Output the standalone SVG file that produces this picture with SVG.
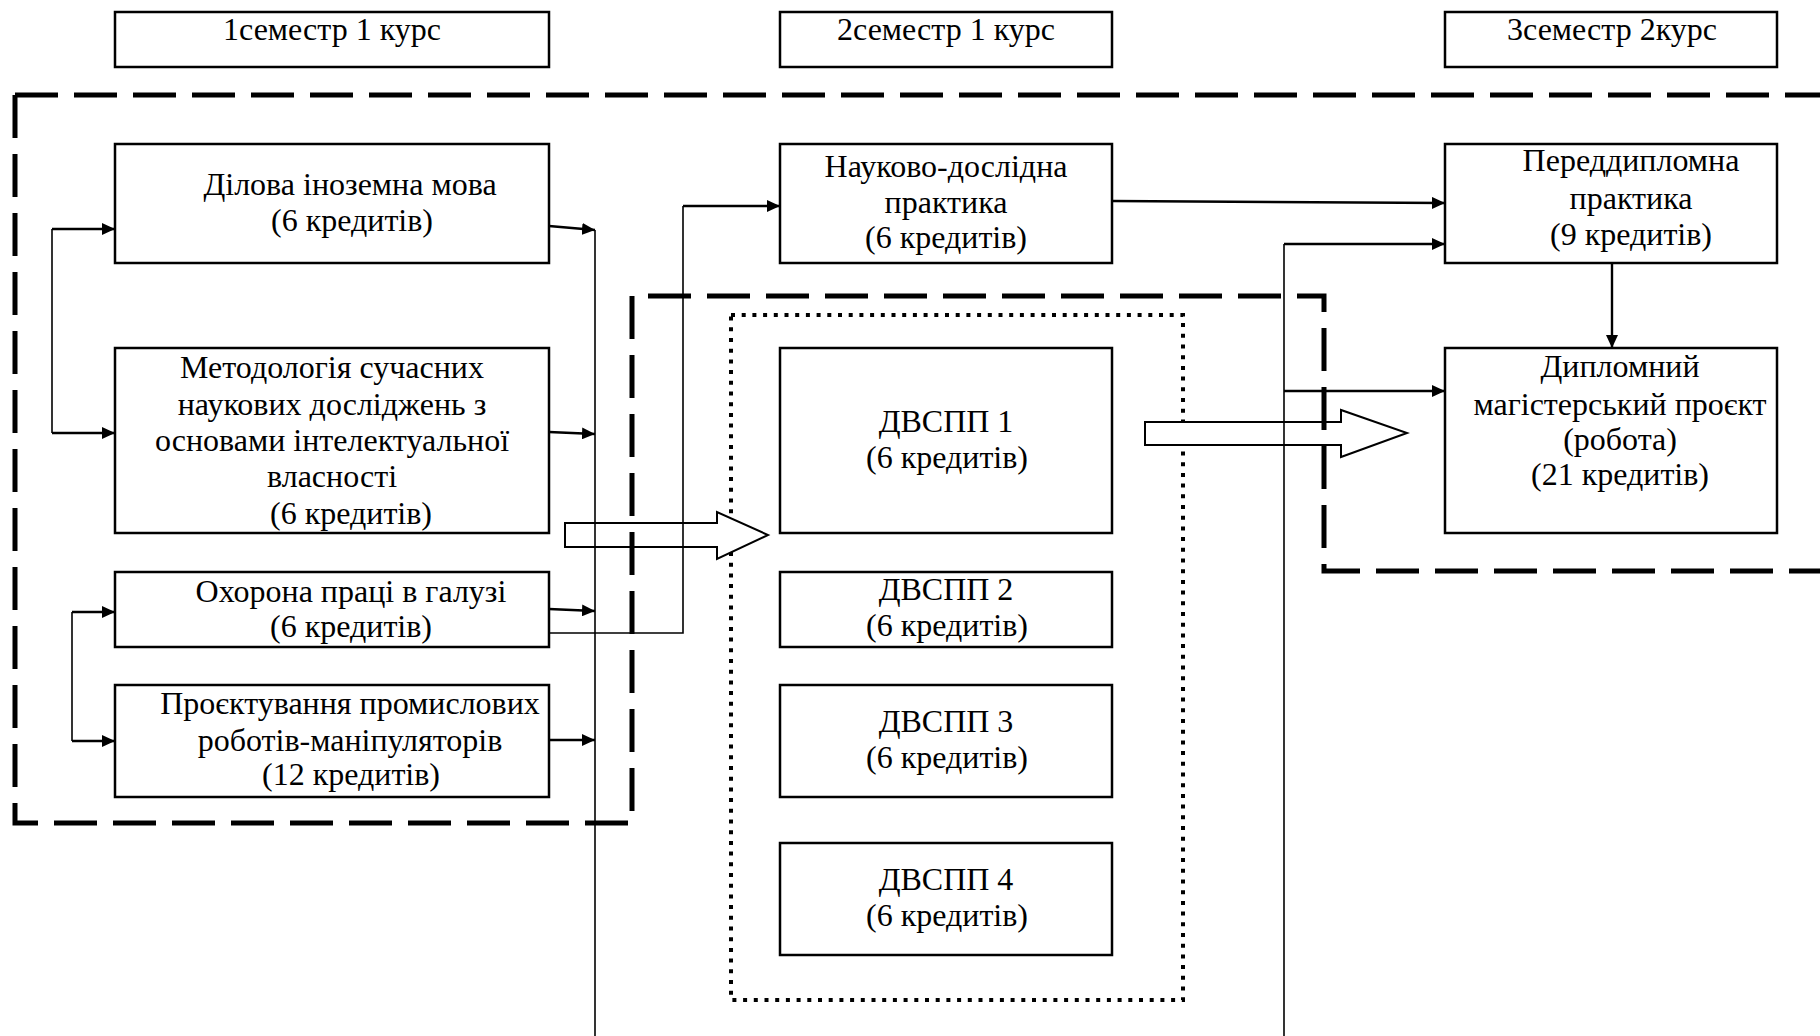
<svg xmlns="http://www.w3.org/2000/svg" width="1820" height="1036" viewBox="0 0 1820 1036">
<defs>
<marker id="ah" markerUnits="userSpaceOnUse" markerWidth="14" markerHeight="12" refX="13" refY="6" orient="auto">
<path d="M0,0 L13,6 L0,12 z" fill="#000"/>
</marker>
<style>
.box{fill:#fff;stroke:#000;stroke-width:2.5}
.t{font-family:"Liberation Serif","Times New Roman",serif;font-size:32px;fill:#000;text-anchor:middle}
.dash{fill:none;stroke:#000;stroke-width:5;stroke-dasharray:43 16}
.dot{fill:none;stroke:#000;stroke-width:4;stroke-dasharray:4 6.7}
.ln{fill:none;stroke:#000;stroke-width:1.6}
.la{fill:none;stroke:#000;stroke-width:2.4;marker-end:url(#ah)}
.big{fill:#fff;stroke:#000;stroke-width:2}
</style>
</defs>
<rect width="1820" height="1036" fill="#fff"/>

<!-- dotted group frame -->
<rect class="dot" x="731" y="315" width="452" height="685"/>

<!-- hollow arrows -->
<g id="big-arrows">
<polygon class="big" points="565,523 717,523 717,512 768,535 717,559 717,547 565,547"/>
<polygon class="big" points="1145,422 1341,422 1341,410 1407,433 1341,457 1341,445 1145,445"/>
</g>

<!-- dashed outlines -->
<path class="dash" d="M15,95 H1820"/>
<path class="dash" d="M15,95 V823 H632 V296 H1324 V571 H1820"/>

<g id="h1"><rect class="box" x="115" y="12" width="434" height="55"/><text class="t" x="332" y="40">1семестр 1 курс</text></g>
<g id="h2"><rect class="box" x="780" y="12" width="332" height="55"/><text class="t" x="946" y="40">2семестр 1 курс</text></g>
<g id="h3"><rect class="box" x="1445" y="12" width="332" height="55"/><text class="t" x="1612" y="40">3семестр 2курс</text></g>

<g id="dilova"><rect class="box" x="115" y="144" width="434" height="119"/>
<text class="t" x="350" y="195">Ділова іноземна мова</text>
<text class="t" x="352" y="231">(6 кредитів)</text></g>

<g id="metod"><rect class="box" x="115" y="348" width="434" height="185"/>
<text class="t" x="332" y="378">Методологія сучасних</text>
<text class="t" x="332" y="415">наукових досліджень з</text>
<text class="t" x="332" y="451">основами інтелектуальної</text>
<text class="t" x="332" y="487">власності</text>
<text class="t" x="351" y="524">(6 кредитів)</text></g>

<g id="okhorona"><rect class="box" x="115" y="572" width="434" height="75"/>
<text class="t" x="351" y="602">Охорона праці в галузі</text>
<text class="t" x="351" y="637">(6 кредитів)</text></g>

<g id="proekt"><rect class="box" x="115" y="685" width="434" height="112"/>
<text class="t" x="350" y="714">Проєктування промислових</text>
<text class="t" x="350" y="751">роботів-маніпуляторів</text>
<text class="t" x="351" y="785">(12 кредитів)</text></g>

<g id="naukovo"><rect class="box" x="780" y="144" width="332" height="119"/>
<text class="t" x="946" y="177">Науково-дослідна</text>
<text class="t" x="946" y="213">практика</text>
<text class="t" x="946" y="248">(6 кредитів)</text></g>

<g id="dvspp1"><rect class="box" x="780" y="348" width="332" height="185"/>
<text class="t" x="946" y="432">ДВСПП 1</text>
<text class="t" x="947" y="468">(6 кредитів)</text></g>

<g id="dvspp2"><rect class="box" x="780" y="572" width="332" height="75"/>
<text class="t" x="946" y="600">ДВСПП 2</text>
<text class="t" x="947" y="636">(6 кредитів)</text></g>

<g id="dvspp3"><rect class="box" x="780" y="685" width="332" height="112"/>
<text class="t" x="946" y="732">ДВСПП 3</text>
<text class="t" x="947" y="768">(6 кредитів)</text></g>

<g id="dvspp4"><rect class="box" x="780" y="843" width="332" height="112"/>
<text class="t" x="946" y="890">ДВСПП 4</text>
<text class="t" x="947" y="926">(6 кредитів)</text></g>

<g id="peredd"><rect class="box" x="1445" y="144" width="332" height="119"/>
<text class="t" x="1631" y="171">Переддипломна</text>
<text class="t" x="1631" y="209">практика</text>
<text class="t" x="1631" y="245">(9 кредитів)</text></g>

<g id="diplom"><rect class="box" x="1445" y="348" width="332" height="185"/>
<text class="t" x="1620" y="377">Дипломний</text>
<text class="t" x="1620" y="415">магістерський проєкт</text>
<text class="t" x="1620" y="450">(робота)</text>
<text class="t" x="1620" y="485">(21 кредитів)</text></g>

<g id="connectors">
<path class="ln" d="M52,229 V433"/>
<path class="la" d="M52,229 H115"/>
<path class="la" d="M52,433 H115"/>
<path class="ln" d="M72,612 V741"/>
<path class="la" d="M72,612 H115"/>
<path class="la" d="M72,741 H115"/>
<path class="la" d="M549,226 L595,230"/>
<path class="la" d="M549,432 L595,434"/>
<path class="la" d="M549,609 L595,611"/>
<path class="la" d="M549,740 L595,740"/>
<path class="ln" d="M595,230 V1036"/>
<path class="ln" d="M549,633 H683 V206"/>
<path class="la" d="M683,206 H780"/>
<path class="la" d="M1112,201 L1445,203"/>
<path class="ln" d="M1284,244 V1036"/>
<path class="la" d="M1284,244 H1445"/>
<path class="la" d="M1284,391 H1445"/>
<path class="la" d="M1612,264 V348"/>
</g>
</svg>
